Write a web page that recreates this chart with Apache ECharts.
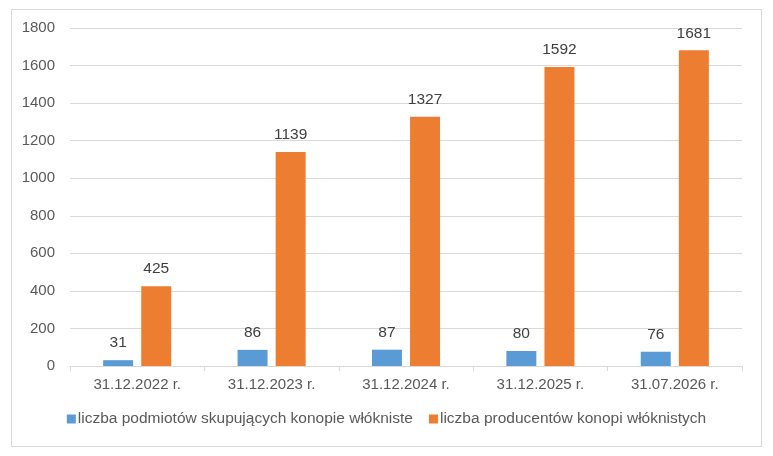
<!DOCTYPE html>
<html>
<head>
<meta charset="utf-8">
<script src="https://cdn.jsdelivr.net/npm/echarts@6/dist/echarts.min.js"></script>
<style>
  html, body { margin: 0; padding: 0; background: #fff; }
  #frame { position: absolute; left: 11px; top: 9px; width: 749px; height: 436px; border: 1px solid #d9d9d9; }
  #main { position: absolute; left: 0; top: 0; width: 773px; height: 456px; }
</style>
</head>
<body>
<div id="frame"></div>
<div id="main"></div>
<script>
// dates of the counts
const categories = ['31.12.2022 r.', '31.12.2023 r.', '31.12.2024 r.', '31.12.2025 r.', '31.07.2026 r.'];
const buyers = [31, 86, 87, 80, 76];
const producers = [425, 1139, 1327, 1592, 1681];
const seriesNames = ['liczba podmiotów skupujących konopie włókniste', 'liczba producentów konopi włóknistych'];

const font = 'Liberation Sans, Arial, sans-serif';

var myChart = echarts.init(document.getElementById('main'));
myChart.setOption({
  animation: false,
  textStyle: { fontFamily: font },
  grid: { left: 70, right: 31, top: 28, bottom: 90 },
  legend: {
    bottom: 24,
    left: 'center',
    itemWidth: 9,
    itemHeight: 9,
    itemGap: 16,
    icon: 'rect',
    textStyle: { color: '#595959', fontSize: 15.5, fontFamily: font, padding: [0, 0, 0, -3] },
    data: seriesNames
  },
  xAxis: {
    type: 'category',
    data: categories,
    axisLine: { lineStyle: { color: '#d9d9d9' } },
    axisTick: { show: true, length: 5, lineStyle: { color: '#d9d9d9' } },
    axisLabel: { color: '#595959', fontSize: 15, margin: 11 }
  },
  yAxis: {
    type: 'value',
    min: 0,
    max: 1800,
    interval: 200,
    axisLine: { show: false },
    axisTick: { show: false },
    axisLabel: { color: '#595959', fontSize: 15, margin: 15, formatter: v => String(v) },
    splitLine: { lineStyle: { color: '#d9d9d9' } }
  },
  series: [
    {
      name: seriesNames[0],
      type: 'bar',
      data: buyers,
      barWidth: 30,
      barGap: '27%',
      itemStyle: { color: '#5B9BD5' },
      label: { show: true, position: 'top', distance: 9, color: '#404040', fontSize: 15.5 }
    },
    {
      name: seriesNames[1],
      type: 'bar',
      data: producers,
      barWidth: 30,
      itemStyle: { color: '#ED7D31' },
      label: { show: true, position: 'top', distance: 9, color: '#404040', fontSize: 15.5 }
    }
  ]
});
</script>
</body>
</html>
